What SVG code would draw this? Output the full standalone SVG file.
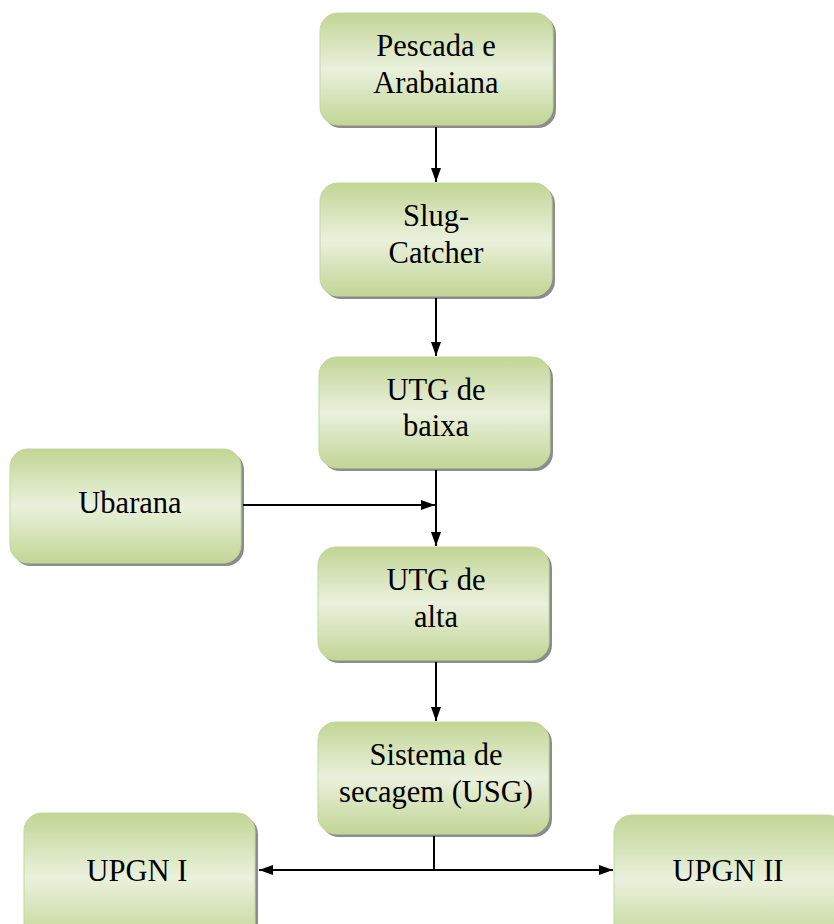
<svg xmlns="http://www.w3.org/2000/svg" width="834" height="924" viewBox="0 0 834 924">
  <style>
    .box { fill: url(#green); stroke: #c3d69b; stroke-width: 1; }
    .shadow { fill: #8c8c8c; }
    .lbl { font-family: "Liberation Serif", "Times New Roman", serif; font-size: 30.5px; fill: #000; text-anchor: middle; }
    .wire { stroke: #000; stroke-width: 2; fill: none; }
  </style>
  <defs>
    <linearGradient id="green" x1="0" y1="0" x2="0" y2="1">
      <stop offset="0" stop-color="#c2d595"/>
      <stop offset="0.5" stop-color="#eaf1dd"/>
      <stop offset="1" stop-color="#c2d595"/>
    </linearGradient>
    <marker id="head" viewBox="0 0 14 10" refX="14" refY="5" markerWidth="7" markerHeight="5.5" markerUnits="strokeWidth" orient="auto">
      <path d="M0,0 L14,5 L0,10 Z" fill="#000"/>
    </marker>
  </defs>

  <g id="n-pescada">
    <rect class="shadow" x="323" y="16" width="233" height="112" rx="18"/>
    <rect class="box" x="320" y="13" width="233" height="112" rx="18"/>
    <text class="lbl" x="436" y="56">Pescada e</text>
    <text class="lbl" x="436" y="93">Arabaiana</text>
  </g>

  <g id="n-slug">
    <rect class="shadow" x="323" y="186" width="232" height="113" rx="18"/>
    <rect class="box" x="320" y="183" width="232" height="113" rx="18"/>
    <text class="lbl" x="436" y="226">Slug-</text>
    <text class="lbl" x="436" y="263">Catcher</text>
  </g>

  <g id="n-utg-baixa">
    <rect class="shadow" x="322" y="360" width="231" height="111" rx="18"/>
    <rect class="box" x="319" y="357" width="231" height="111" rx="18"/>
    <text class="lbl" x="436" y="400">UTG de</text>
    <text class="lbl" x="436" y="436">baixa</text>
  </g>

  <g id="n-ubarana">
    <rect class="shadow" x="13" y="452" width="231" height="114" rx="18"/>
    <rect class="box" x="10" y="449" width="231" height="114" rx="18"/>
    <text class="lbl" x="130" y="513">Ubarana</text>
  </g>

  <g id="n-utg-alta">
    <rect class="shadow" x="321" y="550" width="231" height="113" rx="18"/>
    <rect class="box" x="318" y="547" width="231" height="113" rx="18"/>
    <text class="lbl" x="436" y="590">UTG de</text>
    <text class="lbl" x="436" y="627">alta</text>
  </g>

  <g id="n-usg">
    <rect class="shadow" x="321" y="725" width="231" height="112" rx="18"/>
    <rect class="box" x="318" y="722" width="231" height="112" rx="18"/>
    <text class="lbl" x="436" y="765">Sistema de</text>
    <text class="lbl" x="436" y="802">secagem (USG)</text>
  </g>

  <g id="n-upgn1">
    <rect class="shadow" x="27" y="816" width="231" height="130" rx="18"/>
    <rect class="box" x="24" y="813" width="231" height="130" rx="18"/>
    <text class="lbl" x="137" y="881">UPGN I</text>
  </g>

  <g id="n-upgn2">
    <rect class="shadow" x="617" y="818" width="231" height="130" rx="18"/>
    <rect class="box" x="614" y="815" width="231" height="130" rx="18"/>
    <text class="lbl" x="728" y="881">UPGN II</text>
  </g>

  <g id="connectors">
    <line class="wire" x1="436" y1="127" x2="436" y2="182" marker-end="url(#head)"/>
    <line class="wire" x1="436" y1="298" x2="436" y2="356" marker-end="url(#head)"/>
    <line class="wire" x1="436" y1="470" x2="436" y2="546" marker-end="url(#head)"/>
    <line class="wire" x1="243" y1="505" x2="435" y2="505" marker-end="url(#head)"/>
    <line class="wire" x1="436" y1="662" x2="436" y2="721" marker-end="url(#head)"/>
    <line class="wire" x1="434" y1="836" x2="434" y2="870"/>
    <line class="wire" x1="434" y1="870" x2="259" y2="870" marker-end="url(#head)"/>
    <line class="wire" x1="434" y1="870" x2="613" y2="870" marker-end="url(#head)"/>
  </g>
</svg>
